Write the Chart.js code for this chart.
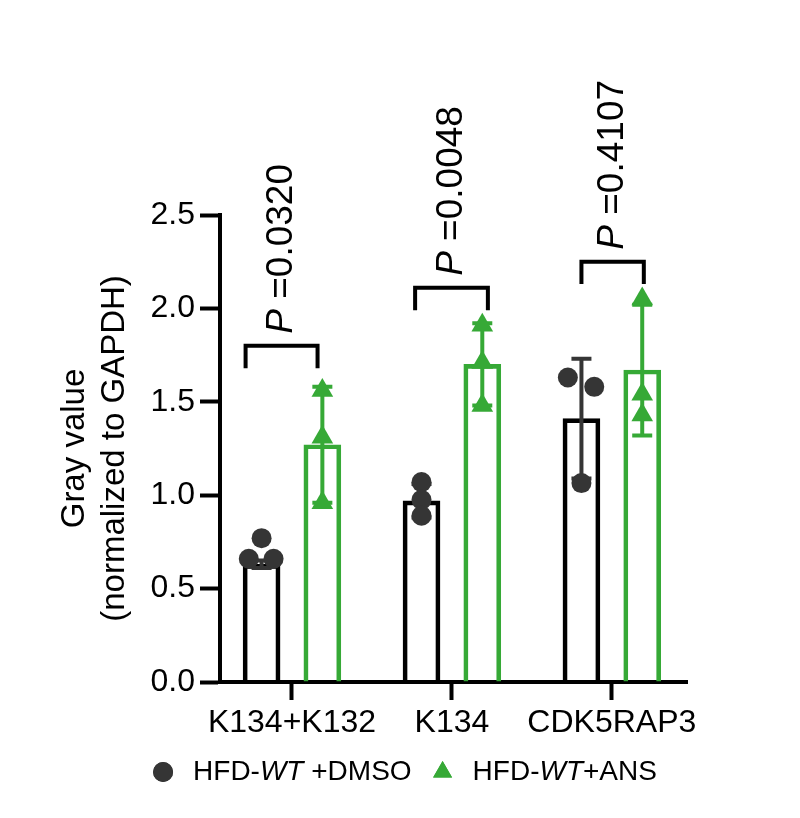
<!DOCTYPE html>
<html>
<head>
<meta charset="utf-8">
<title>Gray value (normalized to GAPDH)</title>
<script src="https://cdn.jsdelivr.net/npm/chart.js@4.4.1/dist/chart.umd.min.js"></script>
<style>
  html, body { margin: 0; padding: 0; background: #fff; }
  #wrap { width: 800px; height: 818px; position: relative; }
</style>
</head>
<body>
<div id="wrap"><canvas id="chart"></canvas></div>
<script>
// --- DATA ---
const categories = ['K134+K132', 'K134', 'CDK5RAP3'];
const seriesLabels = ['HFD-*WT* +DMSO', 'HFD-*WT*+ANS'];   // *...* = italic
const dmsoMean = [0.63, 0.97, 1.41];
const dmsoSD = [0.02, 0.09, 0.32];
const ansMean = [1.27, 1.70, 1.67];
const ansSD = [0.31, 0.22, 0.35];
const dmsoPoints = [[0.66, 0.77, 0.66], [1.07, 0.975, 0.89], [1.63, 1.58, 1.065]];
const ansPoints = [[1.56, 1.31, 0.96], [1.91, 1.71, 1.48], [2.05, 1.54, 1.43]];
const pValues = ['0.0320', '0.0048', '0.4107'];
const yTicks = [0, 0.5, 1.0, 1.5, 2.0, 2.5];

// --- LOOK & PLACEMENT ---
const FONT = "'Liberation Sans', Arial, Helvetica, sans-serif";
const BLACK = '#000000';
const DOT = '#353535';
const GREEN = '#36a936';
const groupShift = 0.19;
const dmsoJitter = [[-0.08, 0, 0.075], [0, 0, 0], [-0.085, 0.08, 0]];
const bracketLevel = [1.80, 2.11, 2.25];
const bracketEnds = [[-0.29, 0.16], [-0.23, 0.225], [-0.19, 0.20]];
const bracketDrop = 0.12;

// --- PLUGINS ---
const errorBarPlugin = {
    id: 'errorBars',
    afterDatasetDraw(chart, args) {
        const ds = chart.data.datasets[args.index];
        if (!ds.errors) return;
        const { ctx, scales: { x, y } } = chart;
        ctx.save();
        ctx.strokeStyle = ds.errorColor;
        ctx.lineWidth = 4;
        ds.data.forEach((pt, i) => {
            const px = x.getPixelForValue(pt.x);
            const hi = y.getPixelForValue(pt.y + ds.errors[i]);
            const lo = y.getPixelForValue(pt.y - ds.errors[i]);
            ctx.beginPath();
            ctx.moveTo(px, hi); ctx.lineTo(px, lo);
            ctx.moveTo(px - 10, hi); ctx.lineTo(px + 10, hi);
            ctx.moveTo(px - 10, lo); ctx.lineTo(px + 10, lo);
            ctx.stroke();
        });
        ctx.restore();
    }
};

const bracketPlugin = {
    id: 'brackets',
    afterDraw(chart) {
        const { ctx, scales: { x, y } } = chart;
        pValues.forEach((p, i) => {
            const x0 = x.getPixelForValue(i + bracketEnds[i][0]);
            const x1 = x.getPixelForValue(i + bracketEnds[i][1]);
            const top = y.getPixelForValue(bracketLevel[i]);
            const foot = y.getPixelForValue(bracketLevel[i] - bracketDrop);
            ctx.save();
            ctx.strokeStyle = BLACK;
            ctx.lineWidth = 4;
            ctx.beginPath();
            ctx.moveTo(x0, foot); ctx.lineTo(x0, top);
            ctx.lineTo(x1, top); ctx.lineTo(x1, foot);
            ctx.stroke();

            ctx.translate((x0 + x1) / 2, top - 12);
            ctx.rotate(-Math.PI / 2);
            ctx.fillStyle = BLACK;
            ctx.textBaseline = 'middle';
            ctx.textAlign = 'left';
            ctx.font = `italic 37px ${FONT}`;
            ctx.fillText('P', 0, 0);
            const w = ctx.measureText('P').width;
            ctx.font = `37px ${FONT}`;
            ctx.fillText(' =' + p, w, 0);
            ctx.restore();
        });
    }
};

// legend with italic parts, drawn below the axis
const legendPlugin = {
    id: 'markupLegend',
    afterDraw(chart) {
        const { ctx } = chart;
        const items = chart.data.datasets.filter(d => d.type === 'scatter');
        const yMid = chart.height - 46;
        const parts = items.map(d => d.label.split('*'));
        const widthOf = segs => segs.reduce((w, s, k) => {
            ctx.font = `${k % 2 ? 'italic ' : ''}28px ${FONT}`;
            return w + ctx.measureText(s).width;
        }, 0);
        ctx.save();
        const widths = parts.map(widthOf);
        const total = widths.reduce((a, b) => a + b, 0) + items.length * 40 + (items.length - 1) * 21;
        let cx = chart.width / 2 + 5 - total / 2;
        items.forEach((d, n) => {
            ctx.fillStyle = d.pointBackgroundColor;
            Chart.helpers.drawPoint(ctx, { pointStyle: d.pointStyle, radius: d.pointStyle === 'triangle' ? 11 : 10, borderWidth: 0, rotation: 0 }, cx + 10, yMid);
            ctx.fill();
            cx += 40;
            ctx.fillStyle = BLACK;
            ctx.textBaseline = 'middle';
            ctx.textAlign = 'left';
            parts[n].forEach((s, k) => {
                ctx.font = `${k % 2 ? 'italic ' : ''}28px ${FONT}`;
                ctx.fillText(s, cx, yMid);
                cx += ctx.measureText(s).width;
            });
            cx += 21;
        });
        ctx.restore();
    }
};

// --- BUILD CHART ---
const barBase = { type: 'bar', backgroundColor: 'rgba(255,255,255,0)', borderWidth: { top: 4, left: 4, right: 4, bottom: 0 },
                  borderSkipped: 'start', barThickness: 37, grouped: false };

const datasets = [
    Object.assign({}, barBase, {
        label: seriesLabels[0],
        data: categories.map((c, i) => ({ x: i - groupShift, y: dmsoMean[i] })),
        borderColor: BLACK, errors: dmsoSD, errorColor: DOT, order: 4
    }),
    Object.assign({}, barBase, {
        label: seriesLabels[1],
        data: categories.map((c, i) => ({ x: i + groupShift, y: ansMean[i] })),
        borderColor: GREEN, errors: ansSD, errorColor: GREEN, order: 3
    }),
    {
        type: 'scatter', label: seriesLabels[0],
        data: dmsoPoints.flatMap((vals, i) => vals.map((v, k) => ({ x: i - groupShift + dmsoJitter[i][k], y: v }))),
        pointStyle: 'circle', pointRadius: 10, pointBorderWidth: 0,
        pointBackgroundColor: DOT, pointBorderColor: DOT, order: 2
    },
    {
        type: 'scatter', label: seriesLabels[1],
        data: ansPoints.flatMap((vals, i) => vals.map(v => ({ x: i + groupShift, y: v }))),
        pointStyle: 'triangle', pointRadius: 12.5, pointBorderWidth: 0,
        pointBackgroundColor: GREEN, pointBorderColor: GREEN, order: 1
    }
];

new Chart(document.getElementById('chart'), {
    type: 'bar',
    data: { datasets },
    plugins: [errorBarPlugin, bracketPlugin, legendPlugin],
    options: {
        responsive: true,
        maintainAspectRatio: false,
        animation: false,
        layout: { padding: { top: 215, right: 113, bottom: 56, left: 0 } },
        plugins: { legend: { display: false }, tooltip: { enabled: false } },
        scales: {
            x: {
                type: 'linear', min: -0.45, max: 2.47, offset: false,
                afterBuildTicks: s => { s.ticks = categories.map((c, i) => ({ value: i })); },
                afterFit: s => { s.height = 80; },
                border: { color: BLACK, width: 4 },
                grid: { drawOnChartArea: false, offset: false, tickLength: 18, tickWidth: 4, tickColor: BLACK, color: BLACK },
                ticks: { autoSkip: false, maxRotation: 0, padding: 4, color: BLACK,
                         font: { family: FONT, size: 32 }, callback: v => categories[v] }
            },
            y: {
                min: 0, max: 2.5,
                afterBuildTicks: s => { s.ticks = yTicks.map(v => ({ value: v })); },
                afterFit: s => { s.width = 220; },
                border: { color: BLACK, width: 4 },
                grid: { drawOnChartArea: false, tickLength: 20, tickWidth: 4, tickColor: BLACK, color: BLACK },
                ticks: { padding: 5, color: BLACK, font: { family: FONT, size: 32 }, callback: v => v.toFixed(1) },
                title: {
                    display: true, text: ['Gray value', '(normalized to GAPDH)'], color: BLACK,
                    font: { family: FONT, size: 33, lineHeight: 1.22 }, padding: { top: 55, bottom: 0 }
                }
            }
        }
    }
});
</script>
</body>
</html>
